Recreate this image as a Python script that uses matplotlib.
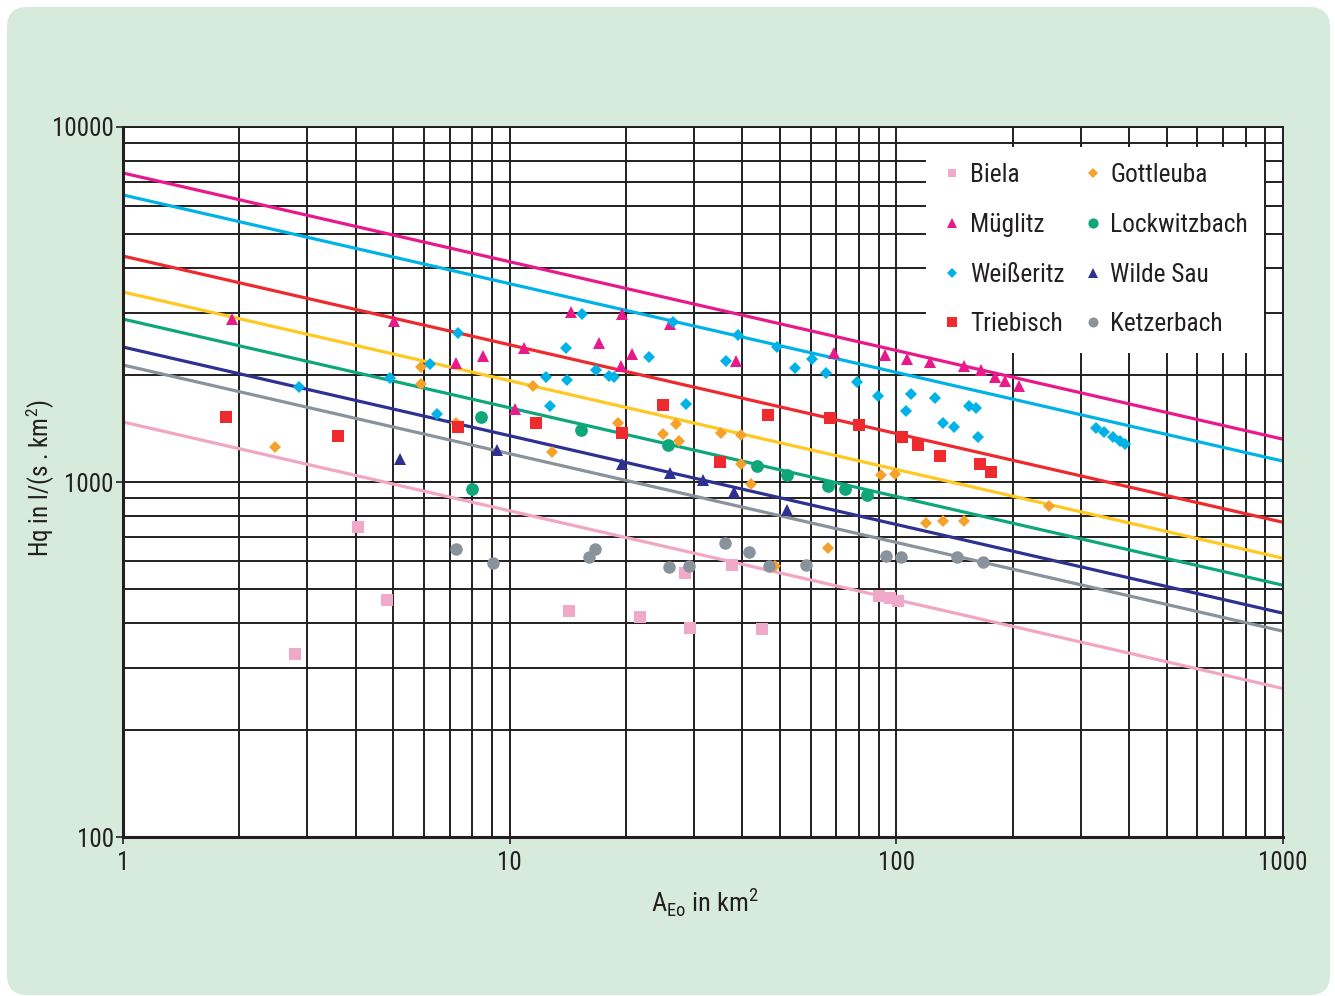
import matplotlib
matplotlib.use("Agg")
import matplotlib.pyplot as plt
from matplotlib.patches import FancyBboxPatch
from matplotlib.transforms import IdentityTransform
from matplotlib.ticker import FixedLocator, FixedFormatter, NullFormatter, LogLocator
from matplotlib.lines import Line2D

plt.rcParams['font.family'] = ['Roboto Condensed', 'DejaVu Sans']
plt.rcParams['font.stretch'] = 'condensed'
plt.rcParams['mathtext.fontset'] = 'custom'
plt.rcParams['mathtext.rm'] = 'Roboto Condensed'

# ---------------- data ----------------
series_names = ["Biela", "Müglitz", "Weißeritz", "Triebisch",
                "Gottleuba", "Lockwitzbach", "Wilde Sau", "Ketzerbach"]

biela_A = [2.79, 4.05, 4.82, 14.2, 21.7, 28.4, 29.3, 37.6, 44.9, 90.2, 96.3, 101]
biela_Hq = [328, 747, 465, 433, 417, 554, 388, 584, 385, 477, 471, 462]

mueglitz_A = [1.91, 5.02, 7.26, 8.53, 10.3, 10.9, 14.4, 17.0, 19.4, 19.5, 20.7,
              26.0, 38.5, 69.0, 93.5, 106.6, 122, 150, 166, 180, 191, 208]
mueglitz_Hq = [2879, 2842, 2164, 2264, 1605, 2385, 3012, 2463, 2122, 2973, 2294,
               2787, 2191, 2308, 2279, 2220, 2178, 2122, 2068, 1976, 1925, 1864]

weisseritz_A = [2.85, 4.90, 6.22, 6.49, 7.35, 12.4, 12.7, 14.0, 14.1, 15.4, 16.7,
                18.1, 18.6, 22.9, 26.5, 28.6, 36.3, 39.0, 49.1, 54.7, 60.5, 65.8,
                79.1, 89.7, 105.9, 109, 126, 132, 141, 154, 161, 163,
                328, 344, 363, 379, 390]
weisseritz_Hq = [1852, 1963, 2150, 1554, 2628, 1976, 1637, 2385, 1938, 2973, 2068,
                 1989, 1976, 2249, 2823, 1658, 2191, 2595, 2400, 2095, 2220, 2028,
                 1913, 1747, 1585, 1770, 1725, 1466, 1428, 1637, 1616, 1339,
                 1419, 1383, 1339, 1305, 1279]

triebisch_A = [1.85, 3.60, 7.35, 11.7, 19.5, 24.9, 35.0, 46.6, 67.4, 80.1, 103.4,
               114, 130, 165, 176]
triebisch_Hq = [1524, 1348, 1428, 1466, 1374, 1648, 1139, 1544, 1514, 1447, 1339,
                1271, 1184, 1124, 1067]

gottleuba_A = [2.47, 5.90, 5.90, 7.26, 11.5, 12.9, 19.1, 24.9, 26.9, 27.4, 35.2,
               39.7, 39.7, 42.1, 48.6, 66.6, 91.3, 99.2, 119, 132, 150, 248]
gottleuba_Hq = [1255, 2108, 1888, 1466, 1864, 1215, 1466, 1365, 1457, 1305, 1374,
                1356, 1124, 987, 580, 652, 1046, 1053, 766, 776, 776, 856]

lockwitz_A = [7.99, 8.43, 15.3, 25.7, 43.6, 52.2, 66.6, 73.7, 84.0]
lockwitz_Hq = [956, 1524, 1401, 1271, 1109, 1046, 974, 956, 919]

wildesau_A = [5.20, 9.27, 19.5, 26.0, 31.6, 38.0, 52.2]
wildesau_Hq = [1161, 1231, 1124, 1060, 1013, 937, 834]

ketzer_A = [7.26, 9.06, 16.0, 16.6, 25.8, 29.1, 36.1, 41.6, 46.9, 58.4, 94.0,
            102.8, 143.5, 167.5]
ketzer_Hq = [648, 591, 615, 648, 576, 580, 673, 635, 580, 584, 619, 615, 615, 595]

# envelope lines: Hq at A = 1 km2 and at A = 1000 km2
line_A = [1, 1000]
line_Hq_start = {"Müglitz": 7420, "Weißeritz": 6435, "Triebisch": 4330,
                 "Gottleuba": 3430, "Lockwitzbach": 2877, "Wilde Sau": 2400,
                 "Ketzerbach": 2136, "Biela": 1476}
line_Hq_end = {"Müglitz": 1320, "Weißeritz": 1145, "Triebisch": 770,
               "Gottleuba": 610, "Lockwitzbach": 512, "Wilde Sau": 427,
               "Ketzerbach": 380, "Biela": 262}

x_ticks = [1, 10, 100, 1000]
x_tick_labels = ["1", "10", "100", "1000"]
y_ticks = [100, 1000, 10000]
y_tick_labels = ["100", "1000", "10000"]

# ---------------- styles ----------------
marker_color = {"Biela": "#f0a9c8", "Müglitz": "#e8198b", "Weißeritz": "#00b2e8",
                "Triebisch": "#ee2a2e", "Gottleuba": "#f5a22c",
                "Lockwitzbach": "#0fa77a", "Wilde Sau": "#2e3192",
                "Ketzerbach": "#8a939b"}
line_color = dict(marker_color)
line_color["Gottleuba"] = "#ffc823"
line_color["Biela"] = "#f2a6c4"
markers = {"Biela": "s", "Müglitz": "^", "Weißeritz": "D", "Triebisch": "s",
           "Gottleuba": "D", "Lockwitzbach": "o", "Wilde Sau": "^",
           "Ketzerbach": "o"}
msize = {"Biela": 8.0, "Müglitz": 8.6, "Weißeritz": 6.0, "Triebisch": 8.2,
         "Gottleuba": 5.8, "Lockwitzbach": 9.2, "Wilde Sau": 8.6,
         "Ketzerbach": 9.0}
data = {"Biela": (biela_A, biela_Hq), "Müglitz": (mueglitz_A, mueglitz_Hq),
        "Weißeritz": (weisseritz_A, weisseritz_Hq),
        "Triebisch": (triebisch_A, triebisch_Hq),
        "Gottleuba": (gottleuba_A, gottleuba_Hq),
        "Lockwitzbach": (lockwitz_A, lockwitz_Hq),
        "Wilde Sau": (wildesau_A, wildesau_Hq),
        "Ketzerbach": (ketzer_A, ketzer_Hq)}
draw_order = ["Biela", "Gottleuba", "Müglitz", "Weißeritz", "Lockwitzbach",
              "Wilde Sau", "Triebisch", "Ketzerbach"]

TXT = "#231f20"

fig = plt.figure(figsize=(13.35, 9.96), dpi=100, facecolor="white")
bg = FancyBboxPatch((7, 1), 1323, 988, boxstyle="round,pad=0,rounding_size=20",
                    transform=IdentityTransform(), facecolor="#d7ebdd",
                    edgecolor="none", zorder=-10)
fig.patches.append(bg)

ax = fig.add_axes([123 / 1335, 1 - 837 / 996, 1160 / 1335, 710 / 996])
ax.set_facecolor("white")
ax.set_xscale("log")
ax.set_yscale("log")
ax.set_xlim(1, 1000)
ax.set_ylim(100, 10000)

ax.xaxis.set_major_locator(FixedLocator(x_ticks))
ax.xaxis.set_major_formatter(FixedFormatter(x_tick_labels))
ax.yaxis.set_major_locator(FixedLocator(y_ticks))
ax.yaxis.set_major_formatter(FixedFormatter(y_tick_labels))
ax.xaxis.set_minor_locator(LogLocator(base=10, subs=range(2, 10)))
ax.yaxis.set_minor_locator(LogLocator(base=10, subs=range(2, 10)))
ax.xaxis.set_minor_formatter(NullFormatter())
ax.yaxis.set_minor_formatter(NullFormatter())

ax.grid(which="both", color="#231f20", linewidth=1.4, zorder=0)
ax.set_axisbelow(True)
ax.tick_params(which="minor", length=0)
ax.tick_params(which="major", direction="out", length=5, width=1.2,
               color=TXT, labelcolor=TXT, labelsize=18)
ax.tick_params(axis="y", which="major", pad=1.5)
ax.tick_params(axis="x", which="major", pad=5)
for s in ["top", "right"]:
    ax.spines[s].set_linewidth(1.4)
    ax.spines[s].set_color("#231f20")
for s in ["left", "bottom"]:
    ax.spines[s].set_linewidth(2.2)
    ax.spines[s].set_color("#231f20")

for name in series_names:
    ax.plot(line_A, [line_Hq_start[name], line_Hq_end[name]],
            color=line_color[name], linewidth=2.3, zorder=2,
            solid_capstyle="butt")

for i, name in enumerate(draw_order):
    A, Hq = data[name]
    ax.plot(A, Hq, linestyle="none", marker=markers[name],
            markersize=msize[name], color=marker_color[name],
            markeredgewidth=0, zorder=3 + i)

handles = [Line2D([], [], linestyle="none", marker=markers[n],
                  markersize=msize[n] * 0.8, color=marker_color[n],
                  markeredgewidth=0) for n in series_names]
leg = ax.legend(handles, series_names, ncol=2, loc="upper left",
                bbox_to_anchor=((926 - 123) / 1160, 1 - (147 - 127) / 710),
                borderaxespad=0, frameon=True, fancybox=False,
                facecolor="white", edgecolor="none", framealpha=1,
                fontsize=18.3, labelspacing=1.01, handlelength=0.8,
                handletextpad=0.3, columnspacing=0.7, borderpad=0.64,
                labelcolor=TXT)
leg.set_zorder(20)

fig.text(40 / 1335, 1 - 478 / 996, r"Hq in l/(s . km$^\mathregular{2}$)",
         rotation=90, ha="center", va="center", fontsize=18, color=TXT)
fig.text(705 / 1335, 1 - 903 / 996, r"A$_\mathregular{Eo}$ in km$^\mathregular{2}$",
         ha="center", va="center", fontsize=19, color=TXT)

fig.savefig("out.png", dpi=100, facecolor="white")
